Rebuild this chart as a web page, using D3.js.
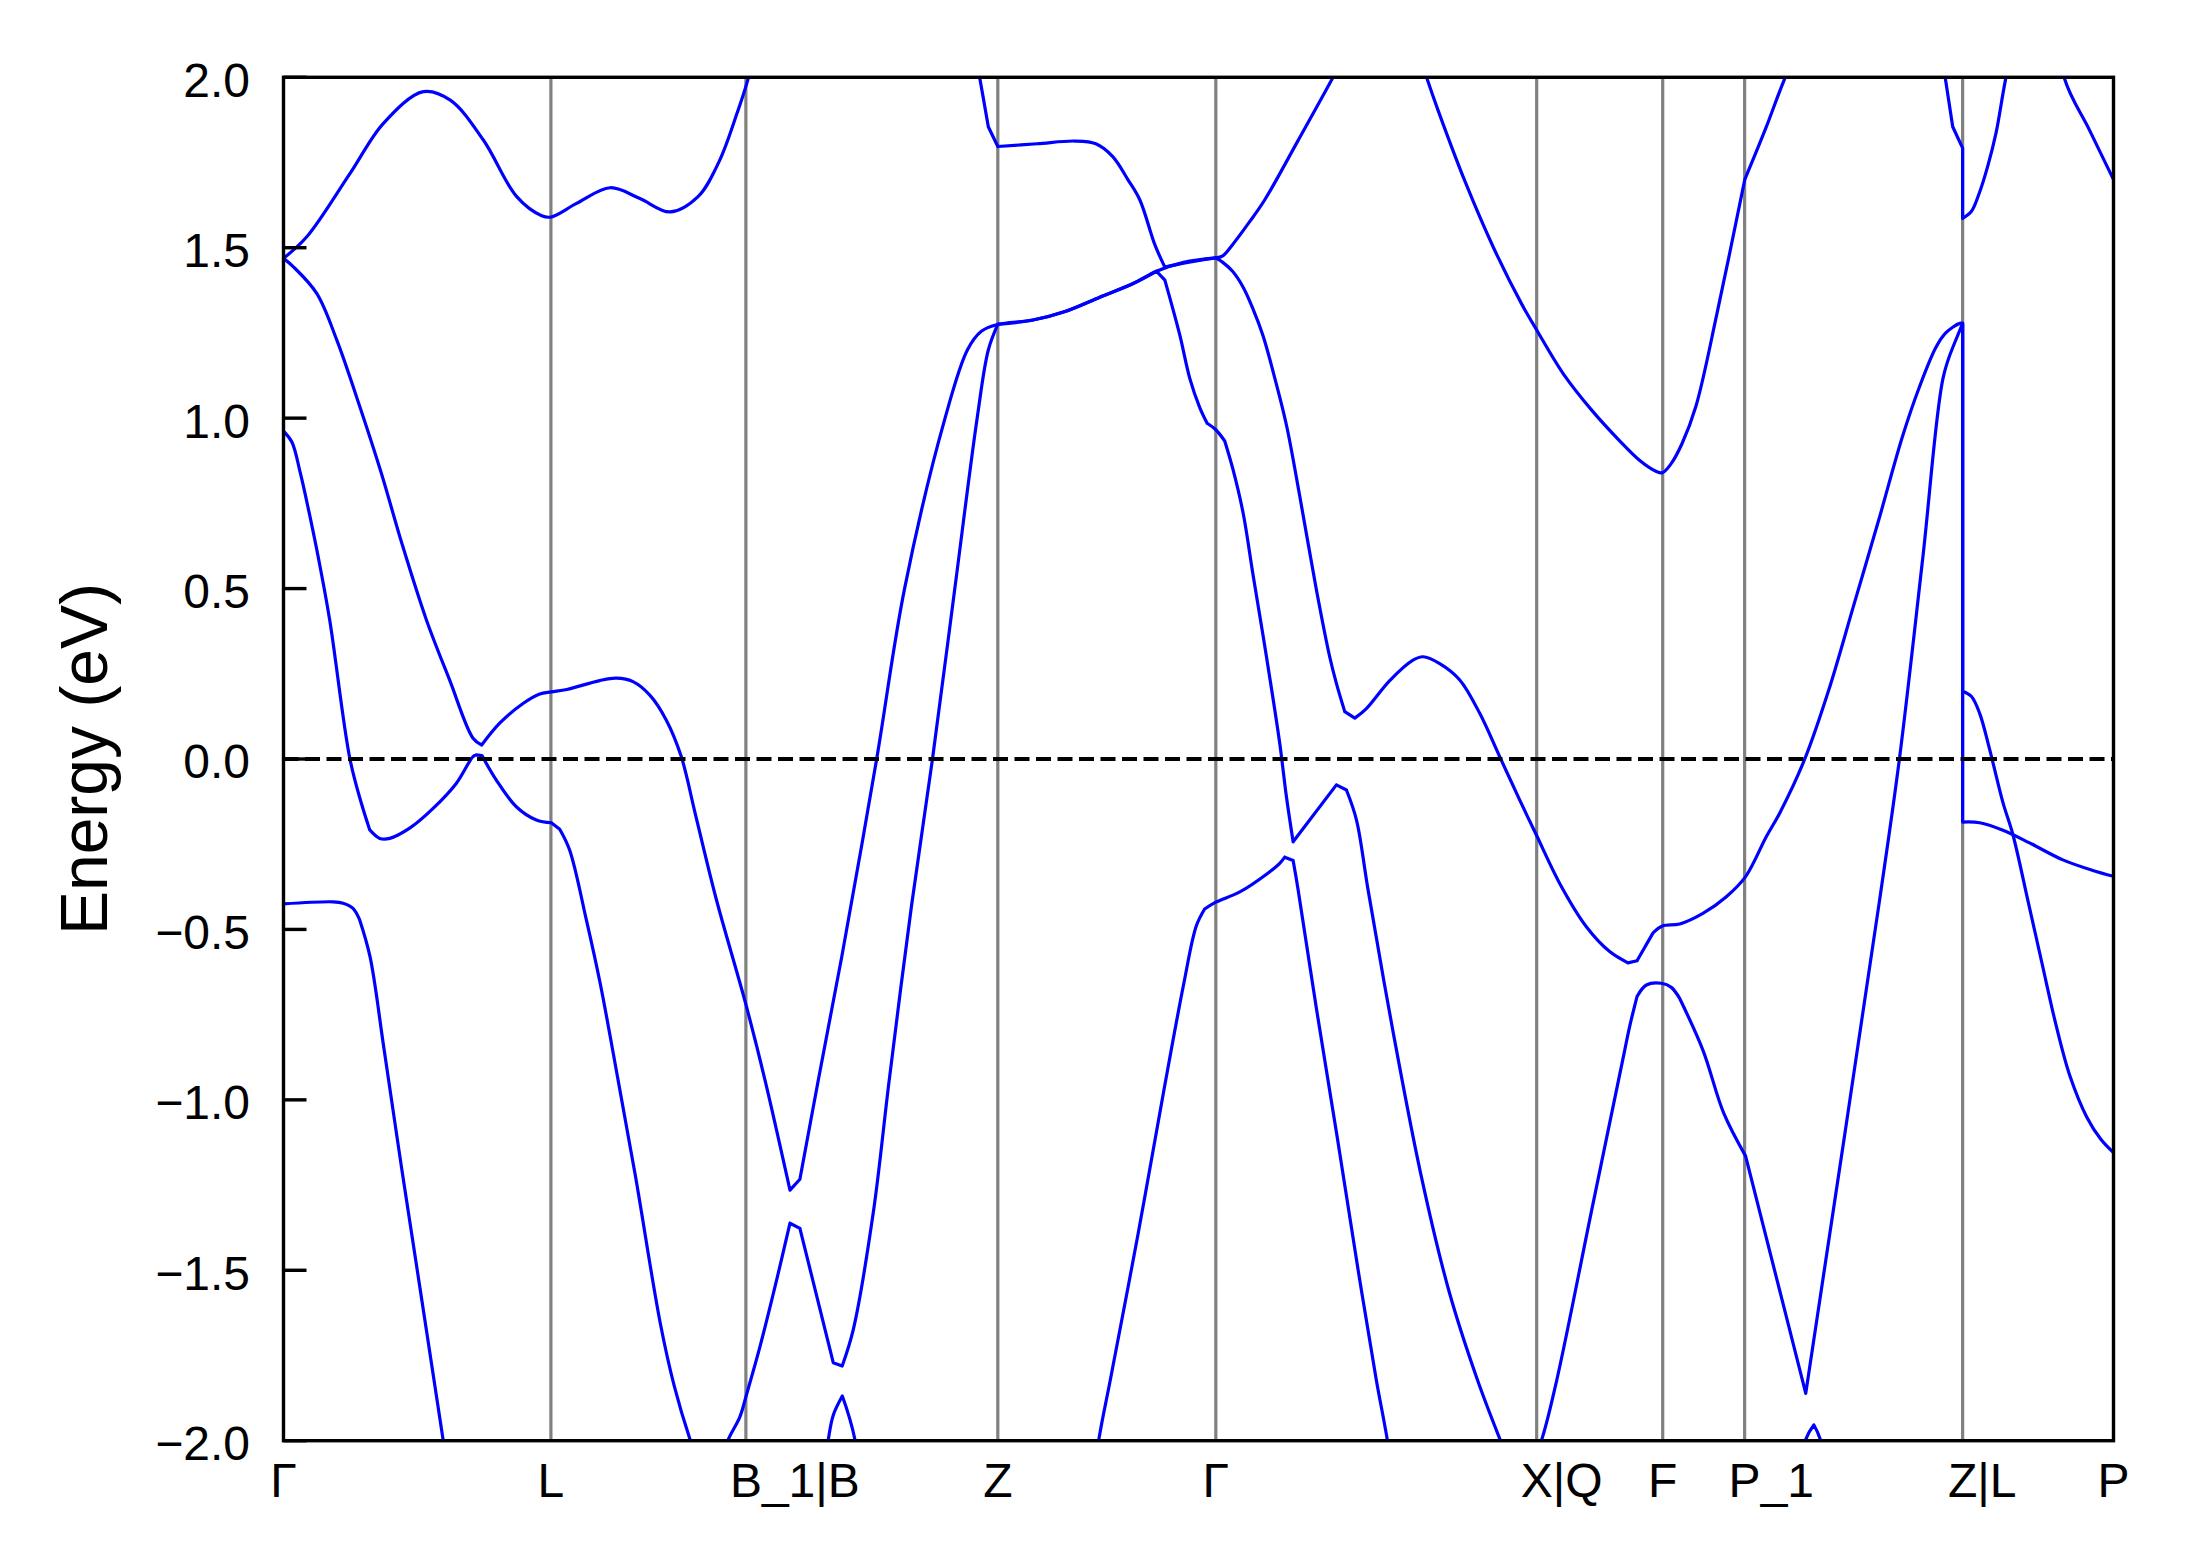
<!DOCTYPE html>
<html>
<head>
<meta charset="utf-8">
<script src="https://cdn.jsdelivr.net/npm/d3@7"></script>
<style>
    body { margin: 0; background: #fff; }
    svg { display: block; }
    text { font-family: "Liberation Sans", Arial, sans-serif; fill: #000; }
</style>
</head>
<body>
<svg id="band-svg" width="2189" height="1567"></svg>
<script>
// high symmetry points, distance along the k-path (arb. units)
var kTicks = [0, 1.916, 3.313, 5.118, 6.68, 8.979, 9.882, 10.469, 12.031, 13.112]
var kLabels = ['Γ', 'L', 'B_1|B', 'Z', 'Γ', 'X|Q', 'F', 'P_1', 'Z|L', 'P']
var eTicks = [-2, -1.5, -1, -0.5, 0, 0.5, 1, 1.5, 2]
var eRange = [-2, 2]
var fermi = 0

// each band = pieces of [k, E (eV)], pieces meet at the kinks
var bandA = [
    [[0, 1.469], [0.167, 1.532], [0.477, 1.718], [0.716, 1.865], [1.002, 1.958], [1.195, 1.933], [1.432, 1.816], [1.671, 1.65], [1.85, 1.594], [1.916, 1.59], [2.1, 1.63], [2.34, 1.676], [2.55, 1.645], [2.77, 1.605], [2.97, 1.65], [3.12, 1.752], [3.25, 1.895], [3.33, 1.997], [3.45, 2.2], [4.2, 2.6], [4.9, 2.2], [4.99, 1.995], [5.05, 1.855]],
    [[5.05, 1.855], [5.118, 1.797]],
    [[5.118, 1.797], [5.4, 1.805], [5.67, 1.813], [5.82, 1.805], [5.94, 1.768], [6.05, 1.70], [6.136, 1.64], [6.243, 1.509], [6.315, 1.443]],
    [[6.315, 1.443], [6.45, 1.455], [6.68, 1.47]],
    [[6.68, 1.47], [6.73, 1.476], [6.80, 1.509], [6.92, 1.575], [7.03, 1.64], [7.27, 1.815], [7.52, 2.0], [7.7, 2.14], [7.87, 2.3], [8.04, 2.19], [8.19, 2.0], [8.27, 1.906], [8.47, 1.69], [8.67, 1.50], [8.87, 1.336], [8.98, 1.258], [9.17, 1.13], [9.37, 1.025], [9.57, 0.935], [9.72, 0.875], [9.83, 0.845], [9.88, 0.84], [9.94, 0.865], [10.02, 0.925], [10.12, 1.035], [10.27, 1.305], [10.47, 1.70]],
    [[10.47, 1.70], [10.62, 1.85], [10.76, 2.0], [11.3, 2.5], [11.85, 2.15], [11.907, 1.997], [11.96, 1.855]],
    [[11.96, 1.855], [12.031, 1.792]],
    [[12.031, 1.792], [12.031, 1.586]],
    [[12.031, 1.586], [12.093, 1.606], [12.15, 1.66], [12.21, 1.738], [12.27, 1.836], [12.34, 1.997], [12.5, 2.3], [12.65, 2.3], [12.76, 1.997], [12.94, 1.845], [13.112, 1.70]]
]
var bandB = [
    [[0, 1.469], [0.071, 1.444], [0.238, 1.366], [0.382, 1.229], [0.55, 1.03], [0.7, 0.84], [0.85, 0.63], [1.024, 0.408], [1.19, 0.232], [1.358, 0.061], [1.42, 0.041]],
    [[1.42, 0.041], [1.549, 0.105], [1.716, 0.163], [1.836, 0.191], [1.919, 0.197], [2.03, 0.204], [2.265, 0.23], [2.385, 0.237], [2.504, 0.227], [2.623, 0.188], [2.743, 0.114], [2.85, 0.007], [2.95, -0.16], [3.1, -0.41], [3.313, -0.72], [3.45, -0.942], [3.629, -1.265]],
    [[3.629, -1.265], [3.70, -1.233]],
    [[3.70, -1.233], [3.832, -0.942], [4.0, -0.58], [4.25, 0.0], [4.45, 0.5], [4.74, 1.0], [4.9, 1.2], [5.0, 1.255], [5.118, 1.275], [5.37, 1.288], [5.6, 1.313], [5.849, 1.355], [6.088, 1.395], [6.255, 1.431]],
    [[6.255, 1.431], [6.315, 1.405]],
    [[6.315, 1.405], [6.42, 1.247], [6.494, 1.116], [6.565, 1.031], [6.618, 0.985]],
    [[6.618, 0.985], [6.68, 0.966], [6.744, 0.933]],
    [[6.744, 0.933], [6.804, 0.848], [6.875, 0.723], [6.947, 0.54], [7.043, 0.30], [7.138, 0.046], [7.186, -0.111], [7.234, -0.243]],
    [[7.234, -0.243], [7.544, -0.076]],
    [[7.544, -0.076], [7.616, -0.091]],
    [[7.616, -0.091], [7.688, -0.179], [7.771, -0.384], [7.95, -0.80], [8.15, -1.22], [8.35, -1.56], [8.555, -1.822], [8.72, -2.0], [8.87, -2.15], [9.013, -2.0], [9.123, -1.822], [9.37, -1.33], [9.61, -0.854], [9.645, -0.785], [9.698, -0.697]],
    [[9.698, -0.697], [9.765, -0.663], [9.872, -0.658], [9.944, -0.67], [10.003, -0.702]],
    [[10.003, -0.702], [10.17, -0.854], [10.32, -1.04], [10.476, -1.165]],
    [[10.476, -1.165], [10.907, -1.861]],
    [[10.907, -1.861], [11.436, -0.414], [11.579, 0.003], [11.746, 0.592], [11.89, 1.116], [11.961, 1.208]],
    [[11.961, 1.208], [12.031, 1.278]],
    [[12.031, 1.278], [12.031, 0.199]],
    [[12.031, 0.199], [12.093, 0.184], [12.153, 0.134], [12.224, 0.029], [12.32, -0.128], [12.39, -0.22], [12.498, -0.414], [12.6, -0.60], [12.7, -0.78], [12.8, -0.93], [12.92, -1.05], [13.02, -1.115], [13.112, -1.155]]
]
var bandC = [
    [[0, 0.962], [0.06, 0.93], [0.12, 0.84], [0.18, 0.73], [0.25, 0.59], [0.331, 0.408], [0.475, 0.002], [0.558, -0.13], [0.618, -0.208]],
    [[0.618, -0.208], [0.69, -0.233], [0.761, -0.233], [0.904, -0.203], [1.072, -0.145], [1.239, -0.071], [1.358, 0.007], [1.382, 0.012]],
    [[1.382, 0.012], [1.422, 0.01]],
    [[1.422, 0.01], [1.525, -0.062], [1.668, -0.14], [1.812, -0.179], [1.919, -0.187]],
    [[1.919, -0.187], [1.979, -0.206]],
    [[1.979, -0.206], [2.05, -0.267], [2.17, -0.472], [2.27, -0.66], [2.37, -0.88], [2.52, -1.22], [2.70, -1.656], [2.80, -1.84], [2.91, -1.993], [3.05, -2.15], [3.187, -1.996], [3.27, -1.93], [3.32, -1.861], [3.414, -1.724], [3.533, -1.529], [3.629, -1.362]],
    [[3.629, -1.362], [3.70, -1.377]],
    [[3.70, -1.377], [3.939, -1.771]],
    [[3.939, -1.771], [4.003, -1.781]],
    [[4.003, -1.781], [4.082, -1.675], [4.225, -1.333], [4.34, -0.942], [4.5, -0.43], [4.65, 0.0], [4.81, 0.5], [4.97, 1.0], [5.05, 1.2], [5.118, 1.275]],
    [[5.118, 1.275], [5.37, 1.288], [5.6, 1.313], [5.849, 1.355], [6.088, 1.395], [6.255, 1.431], [6.45, 1.457], [6.68, 1.47]],
    [[6.68, 1.47], [6.73, 1.457], [6.80, 1.431], [6.875, 1.385], [6.947, 1.32], [7.019, 1.241], [7.09, 1.137], [7.186, 0.98], [7.282, 0.77], [7.401, 0.496], [7.496, 0.30], [7.544, 0.222], [7.604, 0.139]],
    [[7.604, 0.139], [7.676, 0.12]],
    [[7.676, 0.12], [7.759, 0.148], [7.926, 0.23], [8.093, 0.29], [8.165, 0.30], [8.284, 0.28], [8.428, 0.232], [8.571, 0.134], [8.714, 0.007], [8.857, -0.12], [8.977, -0.223], [9.144, -0.365], [9.335, -0.492], [9.502, -0.565], [9.633, -0.598]],
    [[9.633, -0.598], [9.698, -0.592]],
    [[9.698, -0.592], [9.813, -0.51]],
    [[9.813, -0.51], [9.88, -0.49], [10.004, -0.484], [10.17, -0.453], [10.338, -0.404], [10.476, -0.345], [10.624, -0.228], [10.72, -0.159], [10.90, 0.0], [11.07, 0.20], [11.25, 0.45], [11.436, 0.71], [11.60, 0.946], [11.72, 1.09], [11.84, 1.208], [11.91, 1.25], [12.01, 1.278], [12.031, 1.278]],
    [[12.031, 1.278], [12.031, -0.185]],
    [[12.031, -0.185], [12.153, -0.187], [12.32, -0.209], [12.51, -0.246], [12.749, -0.296], [12.964, -0.327], [13.112, -0.344]]
]
var bandD = [
    [[0, -0.425], [0.355, -0.419], [0.427, -0.423], [0.498, -0.438], [0.546, -0.472]],
    [[0.546, -0.472], [0.62, -0.58], [0.72, -0.85], [0.85, -1.21], [0.991, -1.587], [1.142, -1.993], [1.3, -2.45], [2.5, -3], [3.8, -2.3], [3.903, -1.998], [3.939, -1.925], [4.004, -1.869]],
    [[4.004, -1.869], [4.094, -1.996], [4.25, -2.5], [5.0, -3], [5.7, -2.4], [5.842, -1.996], [5.924, -1.822], [6.12, -1.40], [6.30, -0.99], [6.45, -0.66], [6.54, -0.49], [6.60, -0.44]],
    [[6.60, -0.44], [6.68, -0.42], [6.852, -0.39], [7.043, -0.338], [7.138, -0.306], [7.174, -0.288]],
    [[7.174, -0.288], [7.234, -0.298]],
    [[7.234, -0.298], [7.27, -0.384], [7.4, -0.73], [7.55, -1.11], [7.7, -1.5], [7.83, -1.822], [7.91, -2.0], [8.1, -2.5], [9.5, -3], [10.7, -2.4], [10.907, -1.996], [10.965, -1.954]],
    [[10.965, -1.954], [11.011, -1.996], [11.3, -2.6], [13.112, -3]]
]

function draw() {
    var svg = d3.select('#band-svg')
    svg.html('')

    var conf = { left: 283.5, right: 2113.5, top: 77.3, bottom: 1440.7, fs: 48, labelFs: 66 }

    var x = d3.scaleLinear().domain([kTicks[0], kTicks[kTicks.length - 1]]).range([conf.left, conf.right])
    var y = d3.scaleLinear().domain(eRange).range([conf.bottom, conf.top])

    svg.append('defs').append('clipPath').attr('id', 'plot-clip')
        .append('rect')
        .attr('x', conf.left).attr('y', conf.top)
        .attr('width', conf.right - conf.left).attr('height', conf.bottom - conf.top)

    var plot = svg.append('g').attr('clip-path', 'url(#plot-clip)')

    // vertical lines at the inner high symmetry points
    plot.selectAll('.kline').data(kTicks.slice(1, -1)).enter().append('line')
        .attr('class', 'kline')
        .attr('x1', d => x(d)).attr('x2', d => x(d))
        .attr('y1', conf.top).attr('y2', conf.bottom)
        .attr('stroke', '#808080').attr('stroke-width', 3.2)

    var line = d3.line()
        .x(d => x(d[0]))
        .y(d => y(d[1]))
        .curve(d3.curveCatmullRom.alpha(0.5))

    var bands = [bandA, bandB, bandC, bandD]
    plot.selectAll('.band').data(bands).enter().append('path')
        .attr('class', 'band')
        .attr('d', b => b.map(p => line(p)).join(''))
        .attr('fill', 'none')
        .attr('stroke', '#0000ff')
        .attr('stroke-width', 3.2)
        .attr('stroke-linecap', 'round')
        .attr('stroke-linejoin', 'round')

    plot.append('line')
        .attr('x1', conf.left).attr('x2', conf.right)
        .attr('y1', y(fermi)).attr('y2', y(fermi))
        .attr('stroke', '#000').attr('stroke-width', 4)
        .attr('stroke-dasharray', '15,6.5')

    // frame
    svg.append('rect')
        .attr('x', conf.left).attr('y', conf.top)
        .attr('width', conf.right - conf.left).attr('height', conf.bottom - conf.top)
        .attr('fill', 'none').attr('stroke', '#000').attr('stroke-width', 3.4)

    // y ticks point inwards
    svg.selectAll('.ytick').data(eTicks).enter().append('line')
        .attr('class', 'ytick')
        .attr('x1', conf.left).attr('x2', conf.left + 23)
        .attr('y1', d => y(d)).attr('y2', d => y(d))
        .attr('stroke', '#000').attr('stroke-width', 3.4)

    svg.selectAll('.ylab').data(eTicks).enter().append('text')
        .attr('class', 'ylab')
        .attr('x', 250)
        .attr('y', d => y(d) + 19.4)
        .attr('text-anchor', 'end')
        .style('font-size', conf.fs + 'px')
        .text(d => d3.format('.1f')(d).replace('-', '\u2212'))

    // x labels: the first glyph sits on the tick
    svg.selectAll('.xlab').data(kTicks).enter().append('text')
        .attr('class', 'xlab')
        .attr('y', conf.bottom + 56)
        .style('font-size', conf.fs + 'px')
        .text((d, i) => kLabels[i])
        .each(function (d, i) {
            var t = d3.select(this)
            if (kLabels[i].length > 1) {
                var w = this.getSubStringLength(0, 1)
                t.attr('text-anchor', 'start').attr('x', x(d) - w / 2)
            } else {
                t.attr('text-anchor', 'middle').attr('x', x(d))
            }
        })

    svg.append('text')
        .attr('transform', 'translate(107,' + ((conf.top + conf.bottom) / 2) + ') rotate(-90)')
        .attr('text-anchor', 'middle')
        .style('font-size', conf.labelFs + 'px')
        .text('Energy (eV)')
}

draw()
</script>
</body>
</html>
